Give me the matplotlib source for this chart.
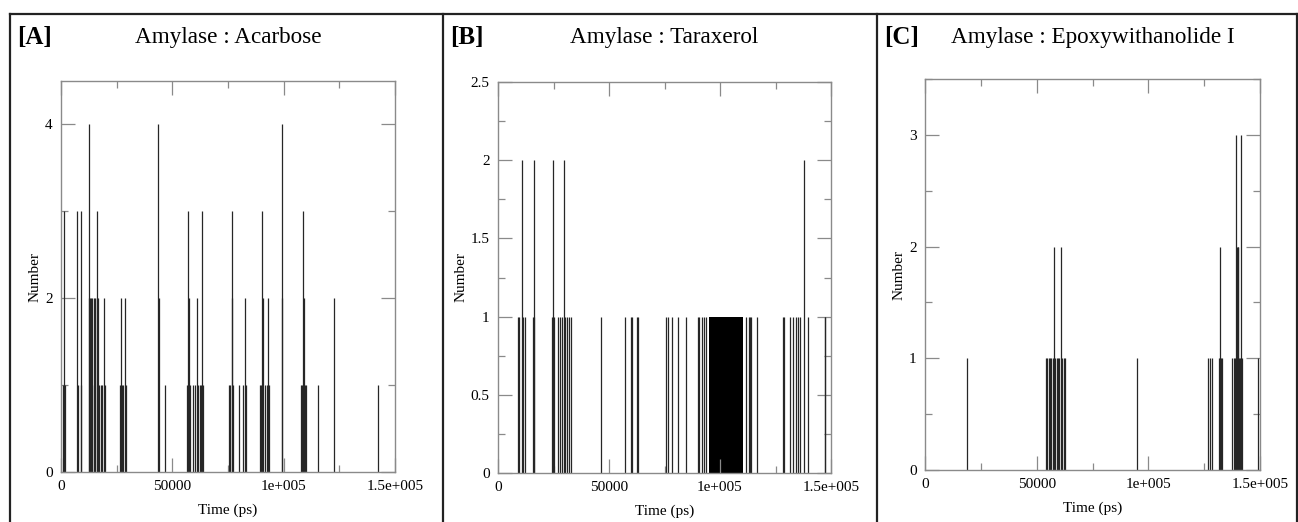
import matplotlib.pyplot as plt
from matplotlib.lines import Line2D
from matplotlib.ticker import MultipleLocator

plt.rcParams["font.family"] = ["Liberation Serif", "DejaVu Serif"]

# hydrogen bond counts, non-zero frames only (time in ps, number)
times_a = [1000, 1500, 1900, 7300, 7500, 8800, 9000,
           12400, 12600, 12900, 13300, 13700, 14100, 14600, 15200, 16000, 16300,
           16600, 17000, 17800, 18400, 19200, 19700,
           26600, 27100, 27500, 28000, 28600, 29100,
           43600, 43800, 46800,
           56700, 57200, 57500, 58000, 59200, 60000, 61000, 61500, 62300, 62900,
           63500, 63800,
           75300, 76000, 76600, 77000, 77400, 79800, 81800, 82600, 83000,
           89200, 89800, 90400, 90700, 91500, 92500, 93100, 93400,
           99100, 99300,
           108000, 108400, 108700, 109000, 109500, 110200,
           115200, 122700, 142400]
counts_a = [1, 3, 1, 3, 1, 3, 1,
            2, 4, 2, 2, 1, 2, 2, 2, 2, 3,
            2, 1, 1, 1, 2, 1,
            1, 2, 1, 1, 2, 1,
            4, 2, 1,
            1, 3, 2, 1, 1, 1, 2, 1, 1, 1,
            3, 1,
            1, 1, 3, 2, 1, 1, 1, 2, 1,
            1, 1, 3, 2, 1, 1, 2, 1,
            4, 2,
            1, 1, 3, 2, 1, 1,
            1, 2, 1]

times_b = [8900, 9500, 10700, 11200, 12200,
           15800, 16100, 16400,
           24300, 24600, 25300,
           27200, 28000, 28800, 29700, 30200, 31000, 32000, 33000,
           46400,
           57400, 60100, 60400, 62600, 62900,
           75800, 76600, 78400, 81100, 84800,
           90000, 90500, 91800, 92600, 93700,
           111800, 113100, 113500, 114100, 116800,
           128200, 129000, 131500, 132800, 134300, 135000, 136000, 137900,
           139700, 147200, 147500]
counts_b = [1, 1, 2, 1, 1,
            1, 2, 1,
            1, 2, 1,
            1, 1, 1, 2, 1, 1, 1, 1,
            1,
            1, 1, 1, 1, 1,
            1, 1, 1, 1, 1,
            1, 1, 1, 1, 1,
            1, 1, 1, 1, 1,
            1, 1, 1, 1, 1, 1, 1, 2,
            1, 1, 1]
# stretch where the bond is nearly always present
span_b_start = 94900
span_b_end = 110400
span_b_count = 1

times_c = [18800,
           54200, 54800, 55500, 56000, 56600, 57200, 57900, 58400, 59000, 59600,
           60100, 60700, 61500, 62300, 62800,
           95100,
           126700, 127500, 128700,
           131500, 132000, 132200, 132600, 133000,
           137600, 138300, 139000, 139400, 139700, 140000, 140300, 140700, 141000,
           141400, 141800,
           149300]
counts_c = [1,
            1, 1, 1, 1, 1, 1, 2, 1, 1, 1,
            1, 2, 1, 1, 1,
            1,
            1, 1, 1,
            1, 1, 2, 1, 1,
            1, 1, 1, 3, 2, 2, 2, 1, 1,
            3, 1,
            1]

panels = ["[A]", "[B]", "[C]"]
titles = ["Amylase : Acarbose", "Amylase : Taraxerol", "Amylase : Epoxywithanolide I"]
xtick_vals = [0, 50000, 100000, 150000]
xtick_labels = ["0", "50000", "1e+005", "1.5e+005"]

fig = plt.figure(figsize=(12.98, 5.22), dpi=100)
W, H = 1298, 522


def box(l, t, r, b):
    return [l / W, 1 - b / H, (r - l) / W, (b - t) / H]


ax_a = fig.add_axes(box(61, 81, 395, 472))
ax_b = fig.add_axes(box(498, 82, 831, 473))
ax_c = fig.add_axes(box(925, 79, 1260, 470))
axes = [ax_a, ax_b, ax_c]

line_kw = dict(colors="#262626", linewidth=0.9)
ax_a.vlines(times_a, 0, counts_a, **line_kw)
ax_b.vlines(times_b, 0, counts_b, **line_kw)
ax_b.bar(span_b_start, span_b_count, width=span_b_end - span_b_start,
         align="edge", color="black", linewidth=0)
ax_c.vlines(times_c, 0, counts_c, **line_kw)

ylims = [4.5, 2.5, 3.5]
ymajor = [2, 0.5, 1]
yminor = [1, 0.25, 0.5]

for ax, ymax, maj, mnr, title in zip(axes, ylims, ymajor, yminor, titles):
    ax.set_xlim(0, 150000)
    ax.set_ylim(0, ymax)
    ax.set_xticks(xtick_vals)
    ax.set_xticklabels(xtick_labels)
    ax.xaxis.set_minor_locator(MultipleLocator(25000))
    ax.yaxis.set_major_locator(MultipleLocator(maj))
    ax.yaxis.set_minor_locator(MultipleLocator(mnr))
    ax.yaxis.set_major_formatter(lambda v, p: f"{v:g}")
    ax.tick_params(which="both", direction="in", top=True, right=True,
                   color="#8a8a8a", labelsize=11, labelcolor="black")
    ax.tick_params(which="major", length=10, width=0.9, pad=6)
    ax.tick_params(which="minor", length=5, width=0.9)
    for s in ax.spines.values():
        s.set_color("#8a8a8a")
        s.set_linewidth(1.0)
    ax.set_xlabel("Time (ps)", fontsize=11, labelpad=7)
    ax.set_ylabel("Number", fontsize=11, labelpad=2.5)
    # title sits at the same height in every panel
    cx = (ax.get_position().x0 + ax.get_position().x1) / 2
    fig.text(cx, 1 - 43.5 / H, title, fontsize=16.7, ha="center", va="baseline")

# panel frames
frame_kw = dict(color="#222222", linewidth=1.6, transform=fig.transFigure)
fig.add_artist(Line2D([10 / W, 1297 / W], [1 - 14 / H, 1 - 14 / H], **frame_kw))
for xp in [10, 443, 877, 1297]:
    fig.add_artist(Line2D([xp / W, xp / W], [0, 1 - 14 / H], **frame_kw))

for xp, label in zip([17, 450, 884], panels):
    fig.text(xp / W, 1 - 44 / H, label, fontsize=18, fontweight="bold",
             ha="left", va="baseline")

fig.savefig("out.png", dpi=100)
